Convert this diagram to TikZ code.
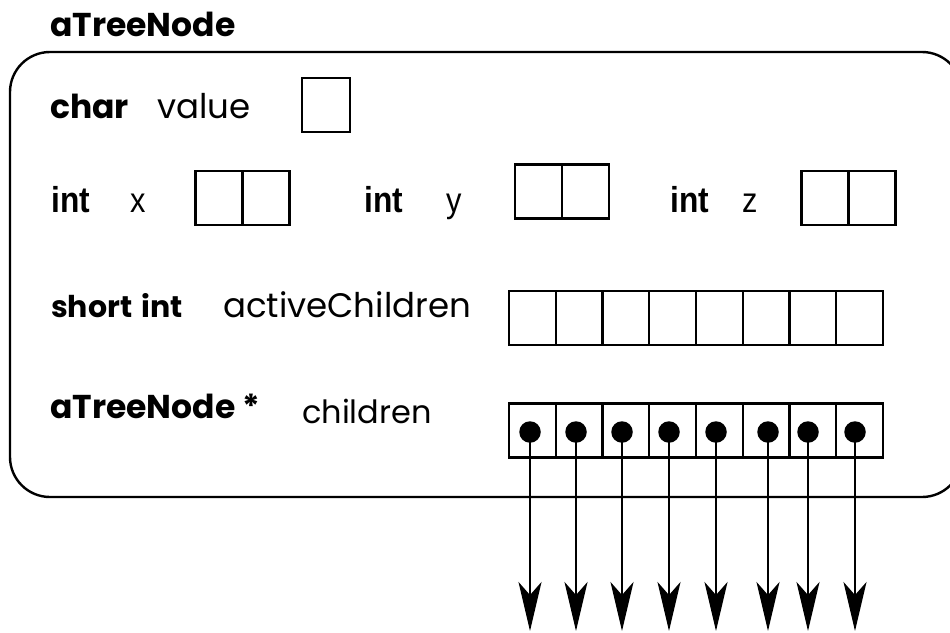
\documentclass[tikz,border=0pt]{standalone}
\usepackage{fontspec}
\setmainfont{Poppins}
\newfontfamily\helv{Liberation Sans}
\usetikzlibrary{arrows.meta}
\newcommand{\narrow}[1]{\scalebox{0.88}[1]{#1}}
\begin{document}
\begin{tikzpicture}[x=1pt,y=-1pt,
  lbl/.style={anchor=base west,inner sep=0pt,font=\fontsize{34}{38}\selectfont},
  kw/.style={lbl,font=\fontsize{33}{37}\selectfont\bfseries},
  hkw/.style={lbl,font=\fontsize{36}{40}\selectfont\helv\bfseries},
  hvar/.style={lbl,font=\fontsize{35}{39}\selectfont\helv},
  cell/.style={draw,line width=2.4pt,minimum width=47pt,minimum height=54pt,inner sep=0pt,outer sep=0pt},
  wide/.style={cell,minimum width=46.75pt},
  dot/.style={circle,fill,minimum size=21.5pt,inner sep=0pt},
  ptr/.style={line width=2.4pt,-{Stealth[length=49pt,width=23pt,inset=13pt]}}
]
\useasboundingbox (0,0) rectangle (950,632);
\clip (0,0) rectangle (950,632);

% the struct outline
\node[kw] (title) at (50,36) {aTreeNode};
\draw[line width=2.4pt,rounded corners=40pt] (10,52) rectangle (962,497);

% char value
\node[kw] (tchar) at (50,118) {char};
\node[lbl] (nvalue) at (157,118) {value};
\node[cell,minimum width=48pt] (bvalue) at (326,105) {};

% int x, y, z
\node[hkw] (tx) at (51,212) {\narrow{int}};
\node[hvar] (nx) at (130,212) {\narrow{x}};
\node[cell] (bx1) at (219,198) {};
\node[cell] (bx2) at (266,198) {};
\node[hkw] (ty) at (364,212) {\narrow{int}};
\node[hvar] (ny) at (446,212) {\narrow{y}};
\node[cell] (by1) at (538.5,191.5) {};
\node[cell] (by2) at (585.5,191.5) {};
\node[hkw] (tz) at (670,212) {\narrow{int}};
\node[hvar] (nz) at (742,212) {\narrow{z}};
\node[cell] (bz1) at (825,198) {};
\node[cell] (bz2) at (872,198) {};

% short int activeChildren[8]
\node[kw,font=\fontsize{30}{34}\selectfont\bfseries] (tshort) at (51,317) {short\hspace{0.3em}int};
\node[lbl] (nactive) at (223,317) {activeChildren};
\foreach \i in {1,...,8}
  \node[wide] (a\i) at ({509+46.75*(\i-0.5)},318) {};

% aTreeNode *children[8]
\node[kw] (tptr) at (50,418) {aTreeNode *};
\node[lbl,font=\fontsize{32}{36}\selectfont] (nchildren) at (302,423) {children};
\foreach \i in {1,...,8}
  \node[wide] (c\i) at ({509+46.75*(\i-0.5)},430.5) {};

% pointer arrows leaving the struct
\foreach \i/\x in {1/530,2/576,3/622,4/669,5/716,6/768,7/808,8/855} {
  \node[dot] (d\i) at (\x,432) {};
  \coordinate (e\i) at (\x,631);
  \draw[ptr] (d\i.center) -- (e\i);
}
\end{tikzpicture}
\end{document}
